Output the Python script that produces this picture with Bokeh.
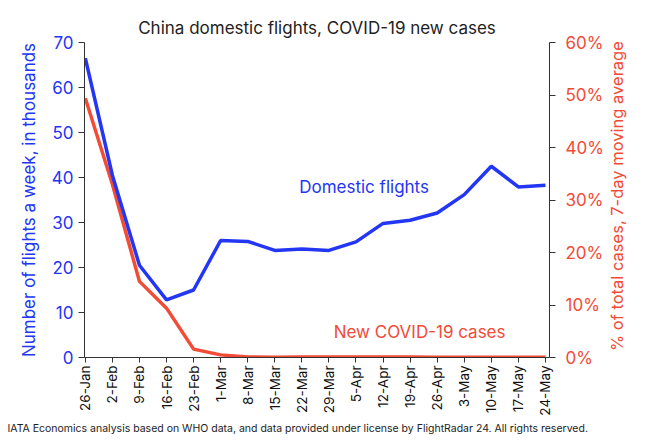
from bokeh.plotting import figure
from bokeh.models import (Range1d, LinearAxis, FixedTicker, PrintfTickFormatter,
                          Label, Title, ColumnDataSource, Div)
from bokeh.layouts import row
from bokeh.embed import file_html
from bokeh.resources import INLINE
import math

weeks = ["26-Jan", "2-Feb", "9-Feb", "16-Feb", "23-Feb", "1-Mar", "8-Mar", "15-Mar",
         "22-Mar", "29-Mar", "5-Apr", "12-Apr", "19-Apr", "26-Apr", "3-May", "10-May",
         "17-May", "24-May"]
flights_k = [66.5, 40.5, 20.5, 12.8, 15.0, 26.0, 25.8, 23.8, 24.1, 23.8, 25.7, 29.8,
             30.5, 32.1, 36.2, 42.5, 37.9, 38.3]
cases_pct = [49.4, 33.0, 14.5, 9.4, 1.6, 0.5, 0.1, 0.05, 0.1, 0.1, 0.1, 0.1,
             0.1, 0.05, 0.05, 0.05, 0.05, 0.05]

BLUE = "#2236f4"
RED = "#f24b36"
FONT = "Inter"

x = list(range(len(weeks)))
src = ColumnDataSource(dict(x=x, flights=flights_k, cases=cases_pct))

p = figure(width=606, height=435, output_backend="svg", toolbar_location=None,
           x_range=Range1d(-0.03, 17.15), y_range=Range1d(0, 70),
           min_border_left=84, min_border_right=55, min_border_top=42,
           min_border_bottom=78)
p.extra_y_ranges = {"pct": Range1d(0, 60)}
p.outline_line_color = None
p.xgrid.visible = False
p.ygrid.visible = False

p.title.text = "China domestic flights, COVID-19 new cases"
p.title.align = "center"
p.title.offset = 10
p.title.text_font = FONT
p.title.text_font_size = "17px"
p.title.text_font_style = "normal"
p.title.text_color = "#222222"

p.line("x", "cases", source=src, y_range_name="pct", line_color=RED, line_width=3.5)
p.line("x", "flights", source=src, line_color=BLUE, line_width=3.5)

# x axis
xa = p.xaxis[0]
xa.ticker = FixedTicker(ticks=x)
xa.major_label_overrides = {i: w for i, w in enumerate(weeks)}
xa.major_label_orientation = math.pi / 2
xa.major_label_standoff = 3
xa.major_label_text_font = FONT
xa.major_label_text_font_size = "13.5px"
xa.major_label_text_color = "#111111"
xa.axis_line_color = "#333333"
xa.major_tick_line_color = "#333333"
xa.major_tick_out = 5
xa.major_tick_in = 0
xa.minor_tick_line_color = None

# left axis
ya = p.yaxis[0]
ya.ticker = FixedTicker(ticks=[0, 10, 20, 30, 40, 50, 60, 70])
ya.axis_label = "Number of flights a week, in thousands"
ya.axis_label_text_font = FONT
ya.axis_label_text_font_size = "17px"
ya.axis_label_text_font_style = "normal"
ya.axis_label_text_color = BLUE
ya.major_label_text_font = FONT
ya.major_label_text_font_size = "17px"
ya.major_label_text_color = BLUE
ya.axis_line_color = "#333333"
ya.major_tick_line_color = "#333333"
ya.major_tick_out = 6
ya.major_tick_in = 0
ya.minor_tick_line_color = None
ya.axis_label_standoff = 10

# right axis
ra = LinearAxis(y_range_name="pct")
ra.ticker = FixedTicker(ticks=[0, 10, 20, 30, 40, 50, 60])
ra.formatter = PrintfTickFormatter(format="%d%%")
ra.major_label_text_font = FONT
ra.major_label_text_font_size = "17px"
ra.major_label_text_color = RED
ra.major_label_standoff = 10
ra.axis_line_color = "#333333"
ra.major_tick_line_color = "#333333"
ra.major_tick_out = 6
ra.major_tick_in = 0
ra.minor_tick_line_color = None
p.add_layout(ra, "right")

p.add_layout(Label(x=10.3, y=38, text="Domestic flights", text_font=FONT,
                   text_font_size="17px", text_color=BLUE,
                   text_align="center", text_baseline="middle"))
p.add_layout(Label(x=12.35, y=5.6, text="New COVID-19 cases", text_font=FONT,
                   text_font_size="17px", text_color=RED,
                   text_align="center", text_baseline="middle"))

foot = Title(text="IATA Economics analysis based on WHO data, and data provided under license by FlightRadar 24. All rights reserved.",
             align="left", text_font=FONT, text_font_size="10.5px",
             text_font_style="normal", text_color="#222222", offset=-77,
             standoff=2)
p.add_layout(foot, "below")

right_label = Div(
    text=('<div style="position:absolute; top:38px; left:0px; height:317px; width:22px; '
          'writing-mode:vertical-rl; transform:rotate(180deg); text-align:center; '
          'font-family:Inter; font-size:16.5px; color:' + RED + '; white-space:nowrap; '
          'line-height:22px;">% of total cases, 7-day moving average</div>'),
    width=23, height=435, margin=0)

layout = row(p, right_label, spacing=0)

open("out.html", "w").write(file_html(layout, INLINE))
